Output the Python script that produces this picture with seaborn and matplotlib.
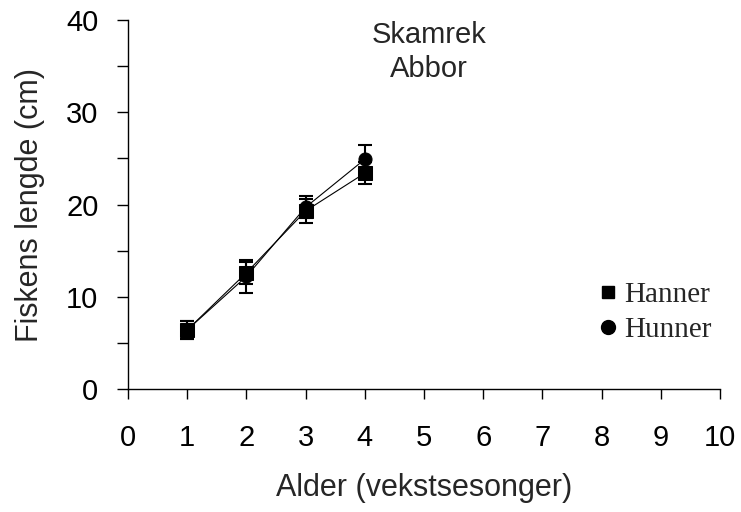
import matplotlib
matplotlib.use("Agg")
import matplotlib.pyplot as plt
import seaborn as sns
import pandas as pd
from matplotlib.ticker import MultipleLocator
from matplotlib.lines import Line2D

# Mean length per age (growth seasons) for perch, males and females
alder = [1, 2, 3, 4]
hanner_lengde = [6.4, 12.6, 19.3, 23.4]
hanner_sd = [1.0, 1.2, 1.3, 1.2]
hunner_lengde = [6.4, 12.2, 19.7, 24.9]
hunner_sd = [1.0, 1.8, 1.2, 1.6]

x_ticks = list(range(0, 11))
y_ticks = [0, 10, 20, 30, 40]

df = pd.concat([
    pd.DataFrame({"Alder": alder, "Lengde": hanner_lengde, "Kjønn": "Hanner"}),
    pd.DataFrame({"Alder": alder, "Lengde": hunner_lengde, "Kjønn": "Hunner"}),
])

sns.set_style("ticks")
plt.rcParams["font.family"] = ["Liberation Sans", "DejaVu Sans"]

fig = plt.figure(figsize=(7.41, 5.12), dpi=100)
ax = fig.add_axes([0.1727, 0.2402, 0.7989, 0.7207])

for lengde, sd in [(hanner_lengde, hanner_sd), (hunner_lengde, hunner_sd)]:
    ax.errorbar(alder, lengde, yerr=sd, fmt="none", ecolor="black",
                elinewidth=1.5, capsize=5, capthick=1.5, zorder=2)

sns.lineplot(data=df, x="Alder", y="Lengde", style="Kjønn",
             markers={"Hanner": "s", "Hunner": "o"},
             dashes=False, color="black", linewidth=0.8,
             markersize=9.4, markeredgecolor="black",
             legend=False, ax=ax, zorder=3)

ax.set_xlim(0, 10)
ax.set_ylim(0, 40)
ax.set_xticks(x_ticks)
ax.set_yticks(y_ticks)
ax.yaxis.set_minor_locator(MultipleLocator(5))
ax.tick_params(axis="x", which="major", length=7.2, width=1,
               labelsize=21, colors="black", pad=18)
ax.tick_params(axis="y", which="major", length=7.8, width=1,
               labelsize=21, colors="black", pad=13.5)
ax.tick_params(axis="y", which="minor", length=7.8, width=1, color="black")
for side in ["top", "right"]:
    ax.spines[side].set_visible(False)
for side in ["left", "bottom"]:
    ax.spines[side].set_color("black")
    ax.spines[side].set_linewidth(1)

ax.set_xlabel("Alder (vekstsesonger)", fontsize=22, labelpad=15)
ax.set_ylabel("Fiskens lengde (cm)", fontsize=22, labelpad=15)

ax.text(5.08, 37.5, "Skamrek", ha="center", va="baseline", fontsize=21)
ax.text(5.08, 33.8, "Abbor", ha="center", va="baseline", fontsize=21)

handles = [
    Line2D([], [], linestyle="none", marker="s", color="black", markersize=9),
    Line2D([], [], linestyle="none", marker="o", color="black", markersize=10),
]
ax.legend(handles, ["Hanner", "Hunner"], frameon=False,
          loc="upper left", bbox_to_anchor=(0.7955, 0.29),
          borderaxespad=0, borderpad=0,
          handlelength=0.6, handletextpad=0.28, labelspacing=0.28,
          prop={"family": "Liberation Serif", "size": 21})

fig.savefig("out.png", dpi=100)
